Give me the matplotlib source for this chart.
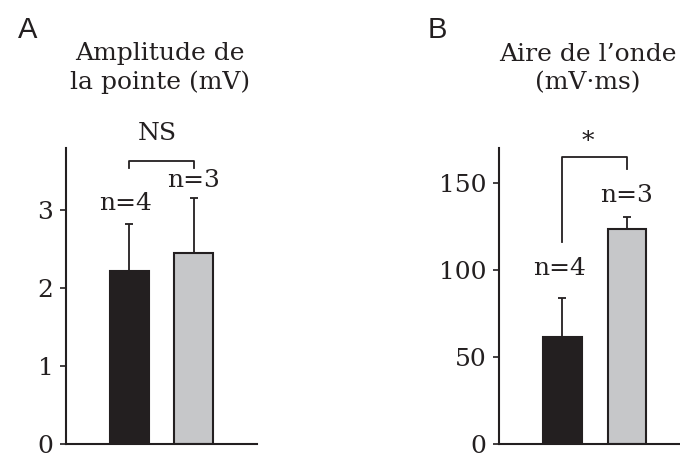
import matplotlib
matplotlib.use("Agg")
import matplotlib.pyplot as plt

# values
groups = ["ctrl", "test"]
bar_colors = ["#231f20", "#c6c7c9"]
n_labels = ["n=4", "n=3"]

amp_mean = [2.22, 2.44]
amp_err = [0.60, 0.71]
amp_ticks = [0, 1, 2, 3]

area_mean = [61.5, 123.5]
area_err = [22.5, 7.0]
area_ticks = [0, 50, 100, 150]

plt.rcParams["font.family"] = ["DejaVu Serif"]
plt.rcParams["font.size"] = 18

fig = plt.figure(figsize=(6.8, 4.54), dpi=100)
axA = fig.add_axes([0.097, 0.022, 0.281, 0.652])
axB = fig.add_axes([0.734, 0.022, 0.281, 0.652])


def draw(ax, means, errs, ticks, ymax):
    x = range(len(means))
    ax.bar(x, means, width=0.6, color=bar_colors, edgecolor="#231f20", linewidth=1.5, zorder=2)
    ax.errorbar(x, means, yerr=[[0] * len(errs), errs], fmt="none", ecolor="#231f20",
                elinewidth=1.3, capsize=3, capthick=1.3, zorder=1)
    ax.set_xlim(-0.98, 1.98)
    ax.set_ylim(0, ymax)
    ax.set_yticks(ticks)
    ax.set_xticks([])
    for s in ["top", "right"]:
        ax.spines[s].set_visible(False)
    for s in ["left", "bottom"]:
        ax.spines[s].set_linewidth(1.5)
        ax.spines[s].set_color("#231f20")
    ax.tick_params(axis="y", direction="out", length=4, width=1.2, pad=5, colors="#231f20")
    ax.patch.set_alpha(0)


draw(axA, amp_mean, amp_err, amp_ticks, 3.79)
draw(axB, area_mean, area_err, area_ticks, 170)

# panel A annotations
axA.text(-0.05, 3.08, n_labels[0], ha="center", va="center", color="#231f20")
axA.text(1.0, 3.38, n_labels[1], ha="center", va="center", color="#231f20")
axA.plot([0, 0, 1, 1], [3.54, 3.62, 3.62, 3.54], color="#231f20", lw=1.3, clip_on=False)
axA.text(0.43, 3.97, "NS", ha="center", va="center", color="#231f20")

# panel B annotations
axB.text(-0.05, 101, n_labels[0], ha="center", va="center", color="#231f20")
axB.text(1.0, 143, n_labels[1], ha="center", va="center", color="#231f20")
axB.plot([0, 0, 1, 1], [116, 165, 165, 158], color="#231f20", lw=1.3, clip_on=False)
axB.text(0.4, 174, "*", ha="center", va="center", color="#231f20")

# titles and panel letters
fig.text(160 / 680, 1 - 68 / 454, "Amplitude de\nla pointe (mV)", ha="center", va="center",
         linespacing=1.3, color="#231f20")
fig.text(588 / 680, 1 - 69 / 454, "Aire de l\u2019onde\n(mV\u00b7ms)", ha="center", va="center",
         linespacing=1.3, color="#231f20")
fig.text(28 / 680, 1 - 30 / 454, "A", ha="center", va="center", fontsize=21,
         family="Liberation Sans", color="#231f20")
fig.text(437 / 680, 1 - 30 / 454, "B", ha="center", va="center", fontsize=21,
         family="Liberation Sans", color="#231f20")

fig.savefig("out.png", dpi=100, facecolor="white")
